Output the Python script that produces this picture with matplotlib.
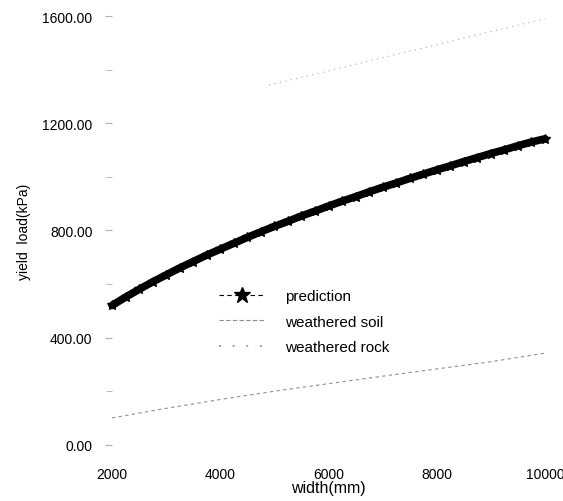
import matplotlib.pyplot as plt
from matplotlib.lines import Line2D
import numpy as np

plt.rcParams["font.family"] = ["Liberation Sans", "DejaVu Sans"]

# width (mm) and yield load (kPa)
width_pred = [2000, 2250, 2500, 2750, 3000, 3250, 3500, 3750, 4000, 4250, 4500,
              4750, 5000, 5250, 5500, 5750, 6000, 6250, 6500, 6750, 7000, 7250,
              7500, 7750, 8000, 8250, 8500, 8750, 9000, 9250, 9500, 9750, 10000]
load_pred = [520, 551, 580, 608, 634, 660, 684, 708, 730, 752, 774,
             795, 815, 834, 854, 872, 891, 909, 926, 944, 961, 977,
             994, 1010, 1026, 1041, 1057, 1072, 1087, 1101, 1116, 1130, 1142]

width_soil = [2000, 3000, 4000, 5000, 6000, 7000, 8000, 9000, 10000]
load_soil = [100, 136, 169, 200, 228, 256, 283, 310, 342]

width_rock = [4900, 6000, 7000, 8000, 9000, 10000]
load_rock = [1343, 1395, 1445, 1493, 1542, 1590]

x_ticks = [2000, 4000, 6000, 8000, 10000]
y_ticks = [0, 400, 800, 1200, 1600]

fig = plt.figure(figsize=(5.63, 5.02), dpi=100)
ax = fig.add_axes([0.199, 0.112, 0.769, 0.854])

ax.plot(width_pred, load_pred, color="black", lw=5.5, marker="*", ms=7.5,
        clip_on=False, solid_capstyle="round")
ax.plot(width_soil, load_soil, color="#8f8f8f", lw=0.8, ls=(0, (3, 3)), clip_on=False)
ax.plot(width_rock, load_rock, color="#a8a8a8", lw=0.8, ls=(0, (1, 4)), clip_on=False)

ax.set_xlim(2000, 10000)
ax.set_ylim(0, 1600)
ax.set_xticks(x_ticks, [str(v) for v in x_ticks])
ax.set_yticks(y_ticks, [f"{v:.2f}" for v in y_ticks])
ax.set_yticks([200, 600, 1000, 1400], minor=True)
for s in ax.spines.values():
    s.set_visible(False)
ax.tick_params(axis="both", which="major", labelsize=10, color="#b0b0b0",
               length=5, width=0.8)
ax.tick_params(axis="y", pad=9)
ax.tick_params(axis="x", pad=16, length=0)
ax.tick_params(axis="y", which="minor", color="#b0b0b0", length=4)
ax.set_xlabel("width(mm)", fontsize=11.5, labelpad=-1)
ax.set_ylabel("yield  load(kPa)", fontsize=10, labelpad=8)

handles = [
    Line2D([], [], color="black", lw=0.8, ls=(0, (4, 3)), marker="*", ms=12),
    Line2D([], [], color="#8f8f8f", lw=0.8, ls=(0, (4, 2))),
    Line2D([], [], color="#a0a0a0", lw=1.4, ls=(0, (1, 6))),
]
ax.legend(handles, ["prediction", "weathered soil", "weathered rock"],
          loc="upper left", bbox_to_anchor=(0.215, 0.395), frameon=False,
          fontsize=11, handlelength=3.0, handletextpad=1.3, labelspacing=0.75)

fig.savefig("out.png", dpi=100, facecolor="white")
